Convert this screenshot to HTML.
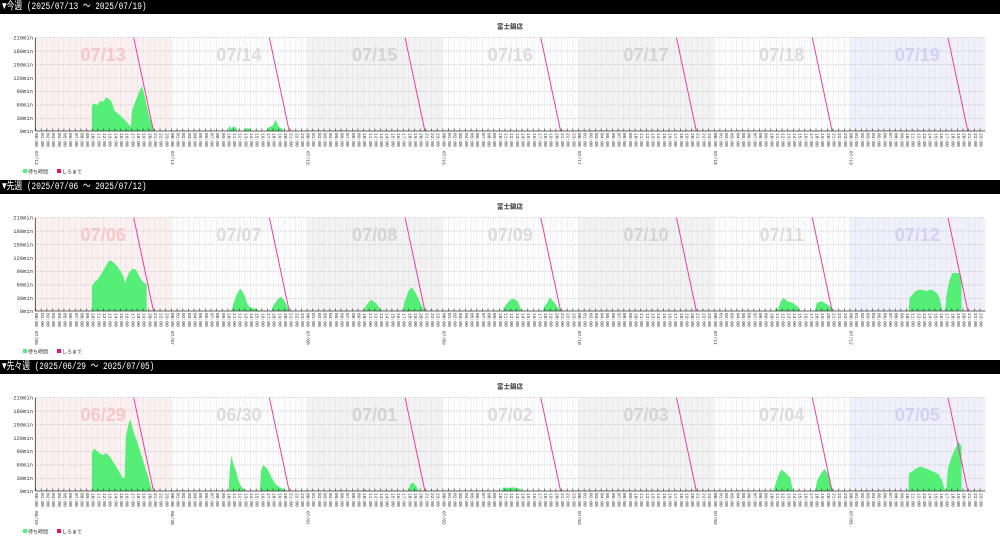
<!DOCTYPE html>
<html><head><meta charset="utf-8"><style>
html,body{margin:0;padding:0;background:#fff;width:1000px;height:540px;overflow:hidden}
.panel{position:absolute;left:0;width:1000px;height:180px}
.hdr{position:absolute;left:0;top:0;width:1000px;height:14px;background:#000}
.hdr span{position:absolute;left:2px;top:0;color:#fff;font:10.5px "Liberation Mono","Noto Sans CJK JP",monospace;line-height:14px;white-space:pre;transform:scaleX(0.74);transform-origin:0 0}
svg{position:absolute;left:0;top:0}
.hl{position:absolute;top:133px;writing-mode:vertical-lr;text-orientation:sideways;font:4.6px "Liberation Mono",monospace;line-height:5.655px;color:#333;white-space:nowrap}
.dl{position:absolute;top:151px;writing-mode:vertical-lr;text-orientation:sideways;font:4.6px "Liberation Mono",monospace;line-height:5.655px;color:#333}
</style></head><body>

<svg width="0" height="0" style="position:absolute">
<defs>
<pattern id="vg" patternUnits="userSpaceOnUse" x="35.3" y="0" width="5.655" height="10"><line x1="0.3" y1="0" x2="0.3" y2="10" stroke="#e2e2e2" stroke-width="0.6"/><line x1="2.85" y1="0" x2="2.85" y2="10" stroke="#efefef" stroke-width="0.5"/></pattern>
<pattern id="tk" patternUnits="userSpaceOnUse" x="35.3" y="0" width="5.655" height="200"><line x1="0.3" y1="128.5" x2="0.3" y2="131" stroke="#333" stroke-width="0.7"/></pattern>
</defs>
</svg>

<div class="panel" style="top:0">
<div class="hdr"><span>▼今週 (2025/07/13 ～ 2025/07/19)</span></div>
<svg width="1000" height="180" font-family="Liberation Sans, Noto Sans CJK JP, sans-serif">
<text x="510" y="28.5" font-size="6.5" font-weight="bold" text-anchor="middle" fill="#333">富士鍋店</text>
<rect x="35.3" y="37.7" width="135.7" height="93.3" fill="#fdf0f0"/>
<rect x="306.7" y="37.7" width="135.7" height="93.3" fill="#f3f3f3"/>
<rect x="578.1" y="37.7" width="135.7" height="93.3" fill="#f3f3f3"/>
<rect x="849.6" y="37.7" width="135.7" height="93.3" fill="#f0f0fd"/>
<rect x="35.3" y="37.7" width="950" height="93.3" fill="url(#vg)"/>
<g stroke="#aaa" stroke-width="0.6" stroke-dasharray="1,1.5"><line x1="35.3" x2="985.3" y1="37.7" y2="37.7"/><line x1="35.3" x2="985.3" y1="51.1" y2="51.1"/><line x1="35.3" x2="985.3" y1="64.6" y2="64.6"/><line x1="35.3" x2="985.3" y1="78" y2="78"/><line x1="35.3" x2="985.3" y1="91.4" y2="91.4"/><line x1="35.3" x2="985.3" y1="104.9" y2="104.9"/><line x1="35.3" x2="985.3" y1="118.3" y2="118.3"/></g>
<g font-size="18" font-weight="bold" text-anchor="middle"><text x="103.2" y="61" fill="#f7c8c8">07/13</text><text x="238.9" y="61" fill="#dcdcdc">07/14</text><text x="374.6" y="61" fill="#d4d4d4">07/15</text><text x="510.3" y="61" fill="#dcdcdc">07/16</text><text x="646" y="61" fill="#d4d4d4">07/17</text><text x="781.7" y="61" fill="#dcdcdc">07/18</text><text x="917.4" y="61" fill="#d2d2f4">07/19</text></g>
<g transform="translate(35.3,131)" fill="#55ee77">
<g transform="translate(0,0) scale(5.655,-0.4476)"><polygon points="10,0 10,55 10.3,62 11,58 11.5,68 12,65 12.5,75 13,72 13.5,65 14,45 15,35 16,22 16.7,12 16.9,10 17.1,45 17.5,60 18.3,85 18.8,100 19.3,80 20,40 20.9,0"/></g>
<g transform="translate(135.71,0) scale(5.655,-0.4476)"><polygon points="10.2,0 10.3,12 10.7,5 11,10 11.5,8 11.7,0"/><polygon points="13,0 13.1,6 14,6 14.2,0"/><polygon points="17,0 17.2,8 18,12 18.5,25 19,10 19.7,5 19.8,0"/></g>
</g>
<g stroke="#e8409a" stroke-width="1"><line x1="133.7" y1="37.7" x2="153.5" y2="131"/><line x1="269.4" y1="37.7" x2="289.2" y2="131"/><line x1="405.1" y1="37.7" x2="424.9" y2="131"/><line x1="540.8" y1="37.7" x2="560.6" y2="131"/><line x1="676.5" y1="37.7" x2="696.3" y2="131"/><line x1="812.3" y1="37.7" x2="832.1" y2="131"/><line x1="948" y1="37.7" x2="967.8" y2="131"/></g>
<rect x="35.3" y="120" width="950" height="12" fill="url(#tk)"/>
<line x1="35.3" y1="131" x2="985.3" y2="131" stroke="#333" stroke-width="0.8"/>
<line x1="35.3" y1="37.7" x2="35.3" y2="131" stroke="#333" stroke-width="0.8"/>
<g font-size="5.5" text-anchor="end" fill="#333" font-family="Liberation Mono, monospace"><text x="33" y="39.5">210min</text><text x="33" y="53">180min</text><text x="33" y="66.4">150min</text><text x="33" y="79.8">120min</text><text x="33" y="93.2">90min</text><text x="33" y="106.7">60min</text><text x="33" y="120.1">30min</text><text x="33" y="132.8">0min</text></g>
<rect x="23" y="169" width="4" height="4" fill="#55ee77"/><text x="28" y="173.5" font-size="5" fill="#333">待ち時間</text>
<rect x="57" y="169" width="4" height="4" fill="#e8106a"/><text x="62" y="173.5" font-size="5" fill="#333">しろまで</text>
</svg>
<div class="hl" style="left:32.5px">00:00<br>01:00<br>02:00<br>03:00<br>04:00<br>05:00<br>06:00<br>07:00<br>08:00<br>09:00<br>10:00<br>11:00<br>12:00<br>13:00<br>14:00<br>15:00<br>16:00<br>17:00<br>18:00<br>19:00<br>20:00<br>21:00<br>22:00<br>23:00</div>
<div class="hl" style="left:168.2px">00:00<br>01:00<br>02:00<br>03:00<br>04:00<br>05:00<br>06:00<br>07:00<br>08:00<br>09:00<br>10:00<br>11:00<br>12:00<br>13:00<br>14:00<br>15:00<br>16:00<br>17:00<br>18:00<br>19:00<br>20:00<br>21:00<br>22:00<br>23:00</div>
<div class="hl" style="left:303.9px">00:00<br>01:00<br>02:00<br>03:00<br>04:00<br>05:00<br>06:00<br>07:00<br>08:00<br>09:00<br>10:00<br>11:00<br>12:00<br>13:00<br>14:00<br>15:00<br>16:00<br>17:00<br>18:00<br>19:00<br>20:00<br>21:00<br>22:00<br>23:00</div>
<div class="hl" style="left:439.6px">00:00<br>01:00<br>02:00<br>03:00<br>04:00<br>05:00<br>06:00<br>07:00<br>08:00<br>09:00<br>10:00<br>11:00<br>12:00<br>13:00<br>14:00<br>15:00<br>16:00<br>17:00<br>18:00<br>19:00<br>20:00<br>21:00<br>22:00<br>23:00</div>
<div class="hl" style="left:575.3px">00:00<br>01:00<br>02:00<br>03:00<br>04:00<br>05:00<br>06:00<br>07:00<br>08:00<br>09:00<br>10:00<br>11:00<br>12:00<br>13:00<br>14:00<br>15:00<br>16:00<br>17:00<br>18:00<br>19:00<br>20:00<br>21:00<br>22:00<br>23:00</div>
<div class="hl" style="left:711.1px">00:00<br>01:00<br>02:00<br>03:00<br>04:00<br>05:00<br>06:00<br>07:00<br>08:00<br>09:00<br>10:00<br>11:00<br>12:00<br>13:00<br>14:00<br>15:00<br>16:00<br>17:00<br>18:00<br>19:00<br>20:00<br>21:00<br>22:00<br>23:00</div>
<div class="hl" style="left:846.8px">00:00<br>01:00<br>02:00<br>03:00<br>04:00<br>05:00<br>06:00<br>07:00<br>08:00<br>09:00<br>10:00<br>11:00<br>12:00<br>13:00<br>14:00<br>15:00<br>16:00<br>17:00<br>18:00<br>19:00<br>20:00<br>21:00<br>22:00<br>23:00</div>
<div class="dl" style="left:32.5px">07/13</div><div class="dl" style="left:168.2px">07/14</div><div class="dl" style="left:303.9px">07/15</div><div class="dl" style="left:439.6px">07/16</div><div class="dl" style="left:575.3px">07/17</div><div class="dl" style="left:711.1px">07/18</div><div class="dl" style="left:846.8px">07/19</div>
</div>

<div class="panel" style="top:180px">
<div class="hdr"><span>▼先週 (2025/07/06 ～ 2025/07/12)</span></div>
<svg width="1000" height="180" font-family="Liberation Sans, Noto Sans CJK JP, sans-serif">
<text x="510" y="28.5" font-size="6.5" font-weight="bold" text-anchor="middle" fill="#333">富士鍋店</text>
<rect x="35.3" y="37.7" width="135.7" height="93.3" fill="#fdf0f0"/>
<rect x="306.7" y="37.7" width="135.7" height="93.3" fill="#f3f3f3"/>
<rect x="578.1" y="37.7" width="135.7" height="93.3" fill="#f3f3f3"/>
<rect x="849.6" y="37.7" width="135.7" height="93.3" fill="#f0f0fd"/>
<rect x="35.3" y="37.7" width="950" height="93.3" fill="url(#vg)"/>
<g stroke="#aaa" stroke-width="0.6" stroke-dasharray="1,1.5"><line x1="35.3" x2="985.3" y1="37.7" y2="37.7"/><line x1="35.3" x2="985.3" y1="51.1" y2="51.1"/><line x1="35.3" x2="985.3" y1="64.6" y2="64.6"/><line x1="35.3" x2="985.3" y1="78" y2="78"/><line x1="35.3" x2="985.3" y1="91.4" y2="91.4"/><line x1="35.3" x2="985.3" y1="104.9" y2="104.9"/><line x1="35.3" x2="985.3" y1="118.3" y2="118.3"/></g>
<g font-size="18" font-weight="bold" text-anchor="middle"><text x="103.2" y="61" fill="#f7c8c8">07/06</text><text x="238.9" y="61" fill="#dcdcdc">07/07</text><text x="374.6" y="61" fill="#d4d4d4">07/08</text><text x="510.3" y="61" fill="#dcdcdc">07/09</text><text x="646" y="61" fill="#d4d4d4">07/10</text><text x="781.7" y="61" fill="#dcdcdc">07/11</text><text x="917.4" y="61" fill="#d2d2f4">07/12</text></g>
<g transform="translate(35.3,131)" fill="#55ee77">
<g transform="translate(0,0) scale(5.655,-0.4476)"><polygon points="10,0 10,55 10.5,65 11,70 12,90 13,112 13.5,112 14.5,100 15.5,80 15.9,62 16.5,85 17.2,95 17.8,92 18.5,75 19,65 19.7,60 19.7,0"/></g>
<g transform="translate(135.71,0) scale(5.655,-0.4476)"><polygon points="10.7,0 11,15 11.7,40 12.3,50 13,35 13.5,15 14,8 15,5 15.7,0"/><polygon points="17.8,0 18,10 18.8,25 19.5,32 20.2,20 20.9,0"/></g>
<g transform="translate(271.42,0) scale(5.655,-0.4476)"><polygon points="10,0 10.3,8 11,20 11.4,25 12.2,18 13,5 13.2,0"/><polygon points="17,0 17.3,20 18,45 18.6,53 19.3,40 20.2,15 20.9,0"/></g>
<g transform="translate(407.13,0) scale(5.655,-0.4476)"><polygon points="10.7,0 11,10 12,25 12.5,28 13.3,22 14,0"/><polygon points="17.8,0 18,10 18.5,18 19,30 19.7,20 20.3,10 21,0"/></g>
<g transform="translate(678.55,0) scale(5.655,-0.4476)"><polygon points="10.8,0 11,10 11.3,2 11.8,20 12.3,30 13,22 14,18 15,8 15.2,0"/><polygon points="17.9,0 18.2,18 19,22 20,15 20.7,8 21,0"/></g>
<g transform="translate(814.26,0) scale(5.655,-0.4476)"><polygon points="10.5,0 10.6,30 11,35 11.7,45 12.5,48 13.5,45 14.5,48 15.5,40 16,25 16.4,0"/><polygon points="16.9,0 17.2,40 17.7,70 18.2,85 19.3,85 19.8,75 19.8,0"/></g>
</g>
<g stroke="#e8409a" stroke-width="1"><line x1="133.7" y1="37.7" x2="153.5" y2="131"/><line x1="269.4" y1="37.7" x2="289.2" y2="131"/><line x1="405.1" y1="37.7" x2="424.9" y2="131"/><line x1="540.8" y1="37.7" x2="560.6" y2="131"/><line x1="676.5" y1="37.7" x2="696.3" y2="131"/><line x1="812.3" y1="37.7" x2="832.1" y2="131"/><line x1="948" y1="37.7" x2="967.8" y2="131"/></g>
<rect x="35.3" y="120" width="950" height="12" fill="url(#tk)"/>
<line x1="35.3" y1="131" x2="985.3" y2="131" stroke="#333" stroke-width="0.8"/>
<line x1="35.3" y1="37.7" x2="35.3" y2="131" stroke="#333" stroke-width="0.8"/>
<g font-size="5.5" text-anchor="end" fill="#333" font-family="Liberation Mono, monospace"><text x="33" y="39.5">210min</text><text x="33" y="53">180min</text><text x="33" y="66.4">150min</text><text x="33" y="79.8">120min</text><text x="33" y="93.2">90min</text><text x="33" y="106.7">60min</text><text x="33" y="120.1">30min</text><text x="33" y="132.8">0min</text></g>
<rect x="23" y="169" width="4" height="4" fill="#55ee77"/><text x="28" y="173.5" font-size="5" fill="#333">待ち時間</text>
<rect x="57" y="169" width="4" height="4" fill="#e8106a"/><text x="62" y="173.5" font-size="5" fill="#333">しろまで</text>
</svg>
<div class="hl" style="left:32.5px">00:00<br>01:00<br>02:00<br>03:00<br>04:00<br>05:00<br>06:00<br>07:00<br>08:00<br>09:00<br>10:00<br>11:00<br>12:00<br>13:00<br>14:00<br>15:00<br>16:00<br>17:00<br>18:00<br>19:00<br>20:00<br>21:00<br>22:00<br>23:00</div>
<div class="hl" style="left:168.2px">00:00<br>01:00<br>02:00<br>03:00<br>04:00<br>05:00<br>06:00<br>07:00<br>08:00<br>09:00<br>10:00<br>11:00<br>12:00<br>13:00<br>14:00<br>15:00<br>16:00<br>17:00<br>18:00<br>19:00<br>20:00<br>21:00<br>22:00<br>23:00</div>
<div class="hl" style="left:303.9px">00:00<br>01:00<br>02:00<br>03:00<br>04:00<br>05:00<br>06:00<br>07:00<br>08:00<br>09:00<br>10:00<br>11:00<br>12:00<br>13:00<br>14:00<br>15:00<br>16:00<br>17:00<br>18:00<br>19:00<br>20:00<br>21:00<br>22:00<br>23:00</div>
<div class="hl" style="left:439.6px">00:00<br>01:00<br>02:00<br>03:00<br>04:00<br>05:00<br>06:00<br>07:00<br>08:00<br>09:00<br>10:00<br>11:00<br>12:00<br>13:00<br>14:00<br>15:00<br>16:00<br>17:00<br>18:00<br>19:00<br>20:00<br>21:00<br>22:00<br>23:00</div>
<div class="hl" style="left:575.3px">00:00<br>01:00<br>02:00<br>03:00<br>04:00<br>05:00<br>06:00<br>07:00<br>08:00<br>09:00<br>10:00<br>11:00<br>12:00<br>13:00<br>14:00<br>15:00<br>16:00<br>17:00<br>18:00<br>19:00<br>20:00<br>21:00<br>22:00<br>23:00</div>
<div class="hl" style="left:711.1px">00:00<br>01:00<br>02:00<br>03:00<br>04:00<br>05:00<br>06:00<br>07:00<br>08:00<br>09:00<br>10:00<br>11:00<br>12:00<br>13:00<br>14:00<br>15:00<br>16:00<br>17:00<br>18:00<br>19:00<br>20:00<br>21:00<br>22:00<br>23:00</div>
<div class="hl" style="left:846.8px">00:00<br>01:00<br>02:00<br>03:00<br>04:00<br>05:00<br>06:00<br>07:00<br>08:00<br>09:00<br>10:00<br>11:00<br>12:00<br>13:00<br>14:00<br>15:00<br>16:00<br>17:00<br>18:00<br>19:00<br>20:00<br>21:00<br>22:00<br>23:00</div>
<div class="dl" style="left:32.5px">07/06</div><div class="dl" style="left:168.2px">07/07</div><div class="dl" style="left:303.9px">07/08</div><div class="dl" style="left:439.6px">07/09</div><div class="dl" style="left:575.3px">07/10</div><div class="dl" style="left:711.1px">07/11</div><div class="dl" style="left:846.8px">07/12</div>
</div>

<div class="panel" style="top:360px">
<div class="hdr"><span>▼先々週 (2025/06/29 ～ 2025/07/05)</span></div>
<svg width="1000" height="180" font-family="Liberation Sans, Noto Sans CJK JP, sans-serif">
<text x="510" y="28.5" font-size="6.5" font-weight="bold" text-anchor="middle" fill="#333">富士鍋店</text>
<rect x="35.3" y="37.7" width="135.7" height="93.3" fill="#fdf0f0"/>
<rect x="306.7" y="37.7" width="135.7" height="93.3" fill="#f3f3f3"/>
<rect x="578.1" y="37.7" width="135.7" height="93.3" fill="#f3f3f3"/>
<rect x="849.6" y="37.7" width="135.7" height="93.3" fill="#f0f0fd"/>
<rect x="35.3" y="37.7" width="950" height="93.3" fill="url(#vg)"/>
<g stroke="#aaa" stroke-width="0.6" stroke-dasharray="1,1.5"><line x1="35.3" x2="985.3" y1="37.7" y2="37.7"/><line x1="35.3" x2="985.3" y1="51.1" y2="51.1"/><line x1="35.3" x2="985.3" y1="64.6" y2="64.6"/><line x1="35.3" x2="985.3" y1="78" y2="78"/><line x1="35.3" x2="985.3" y1="91.4" y2="91.4"/><line x1="35.3" x2="985.3" y1="104.9" y2="104.9"/><line x1="35.3" x2="985.3" y1="118.3" y2="118.3"/></g>
<g font-size="18" font-weight="bold" text-anchor="middle"><text x="103.2" y="61" fill="#f7c8c8">06/29</text><text x="238.9" y="61" fill="#dcdcdc">06/30</text><text x="374.6" y="61" fill="#d4d4d4">07/01</text><text x="510.3" y="61" fill="#dcdcdc">07/02</text><text x="646" y="61" fill="#d4d4d4">07/03</text><text x="781.7" y="61" fill="#dcdcdc">07/04</text><text x="917.4" y="61" fill="#d2d2f4">07/05</text></g>
<g transform="translate(35.3,131)" fill="#55ee77">
<g transform="translate(0,0) scale(5.655,-0.4476)"><polygon points="10,0 10,85 10.4,95 11,88 12,80 12.5,85 13.3,75 14,60 15,40 15.5,28 15.8,30 16,120 16.5,150 16.8,160 17.3,135 18,110 19,70 20,30 20.6,0"/></g>
<g transform="translate(135.71,0) scale(5.655,-0.4476)"><polygon points="10.2,0 10.4,50 10.7,80 11,60 11.5,45 12,20 12.5,8 13.2,0"/><polygon points="15.7,0 15.9,45 16.3,58 17,50 18,25 18.5,15 19.2,8 19.8,5 20.5,0"/></g>
<g transform="translate(271.42,0) scale(5.655,-0.4476)"><polygon points="10.1,0 10.3,6 10.6,0"/><polygon points="18,0 18.3,15 18.8,19 19.4,10 19.8,0"/></g>
<g transform="translate(407.13,0) scale(5.655,-0.4476)"><polygon points="10.5,0 10.7,8 11.5,7 12.5,8 13.5,6 14.1,0"/></g>
<g transform="translate(678.55,0) scale(5.655,-0.4476)"><polygon points="10.5,0 10.9,15 11.5,38 12,48 12.7,40 13.5,30 14,0"/><polygon points="17.9,0 18.3,25 19,40 19.6,50 20.3,35 21,0"/></g>
<g transform="translate(814.26,0) scale(5.655,-0.4476)"><polygon points="10.4,0 10.5,40 11,43 11.7,50 12.5,55 13.2,52 14,48 15,42 15.7,38 16.3,25 16.9,0"/><polygon points="17.1,0 17.4,50 18,75 18.7,95 19.3,110 19.8,100 19.8,0"/></g>
</g>
<g stroke="#e8409a" stroke-width="1"><line x1="133.7" y1="37.7" x2="153.5" y2="131"/><line x1="269.4" y1="37.7" x2="289.2" y2="131"/><line x1="405.1" y1="37.7" x2="424.9" y2="131"/><line x1="540.8" y1="37.7" x2="560.6" y2="131"/><line x1="676.5" y1="37.7" x2="696.3" y2="131"/><line x1="812.3" y1="37.7" x2="832.1" y2="131"/><line x1="948" y1="37.7" x2="967.8" y2="131"/></g>
<rect x="35.3" y="120" width="950" height="12" fill="url(#tk)"/>
<line x1="35.3" y1="131" x2="985.3" y2="131" stroke="#333" stroke-width="0.8"/>
<line x1="35.3" y1="37.7" x2="35.3" y2="131" stroke="#333" stroke-width="0.8"/>
<g font-size="5.5" text-anchor="end" fill="#333" font-family="Liberation Mono, monospace"><text x="33" y="39.5">210min</text><text x="33" y="53">180min</text><text x="33" y="66.4">150min</text><text x="33" y="79.8">120min</text><text x="33" y="93.2">90min</text><text x="33" y="106.7">60min</text><text x="33" y="120.1">30min</text><text x="33" y="132.8">0min</text></g>
<rect x="23" y="169" width="4" height="4" fill="#55ee77"/><text x="28" y="173.5" font-size="5" fill="#333">待ち時間</text>
<rect x="57" y="169" width="4" height="4" fill="#e8106a"/><text x="62" y="173.5" font-size="5" fill="#333">しろまで</text>
</svg>
<div class="hl" style="left:32.5px">00:00<br>01:00<br>02:00<br>03:00<br>04:00<br>05:00<br>06:00<br>07:00<br>08:00<br>09:00<br>10:00<br>11:00<br>12:00<br>13:00<br>14:00<br>15:00<br>16:00<br>17:00<br>18:00<br>19:00<br>20:00<br>21:00<br>22:00<br>23:00</div>
<div class="hl" style="left:168.2px">00:00<br>01:00<br>02:00<br>03:00<br>04:00<br>05:00<br>06:00<br>07:00<br>08:00<br>09:00<br>10:00<br>11:00<br>12:00<br>13:00<br>14:00<br>15:00<br>16:00<br>17:00<br>18:00<br>19:00<br>20:00<br>21:00<br>22:00<br>23:00</div>
<div class="hl" style="left:303.9px">00:00<br>01:00<br>02:00<br>03:00<br>04:00<br>05:00<br>06:00<br>07:00<br>08:00<br>09:00<br>10:00<br>11:00<br>12:00<br>13:00<br>14:00<br>15:00<br>16:00<br>17:00<br>18:00<br>19:00<br>20:00<br>21:00<br>22:00<br>23:00</div>
<div class="hl" style="left:439.6px">00:00<br>01:00<br>02:00<br>03:00<br>04:00<br>05:00<br>06:00<br>07:00<br>08:00<br>09:00<br>10:00<br>11:00<br>12:00<br>13:00<br>14:00<br>15:00<br>16:00<br>17:00<br>18:00<br>19:00<br>20:00<br>21:00<br>22:00<br>23:00</div>
<div class="hl" style="left:575.3px">00:00<br>01:00<br>02:00<br>03:00<br>04:00<br>05:00<br>06:00<br>07:00<br>08:00<br>09:00<br>10:00<br>11:00<br>12:00<br>13:00<br>14:00<br>15:00<br>16:00<br>17:00<br>18:00<br>19:00<br>20:00<br>21:00<br>22:00<br>23:00</div>
<div class="hl" style="left:711.1px">00:00<br>01:00<br>02:00<br>03:00<br>04:00<br>05:00<br>06:00<br>07:00<br>08:00<br>09:00<br>10:00<br>11:00<br>12:00<br>13:00<br>14:00<br>15:00<br>16:00<br>17:00<br>18:00<br>19:00<br>20:00<br>21:00<br>22:00<br>23:00</div>
<div class="hl" style="left:846.8px">00:00<br>01:00<br>02:00<br>03:00<br>04:00<br>05:00<br>06:00<br>07:00<br>08:00<br>09:00<br>10:00<br>11:00<br>12:00<br>13:00<br>14:00<br>15:00<br>16:00<br>17:00<br>18:00<br>19:00<br>20:00<br>21:00<br>22:00<br>23:00</div>
<div class="dl" style="left:32.5px">06/29</div><div class="dl" style="left:168.2px">06/30</div><div class="dl" style="left:303.9px">07/01</div><div class="dl" style="left:439.6px">07/02</div><div class="dl" style="left:575.3px">07/03</div><div class="dl" style="left:711.1px">07/04</div><div class="dl" style="left:846.8px">07/05</div>
</div>
</body></html>
